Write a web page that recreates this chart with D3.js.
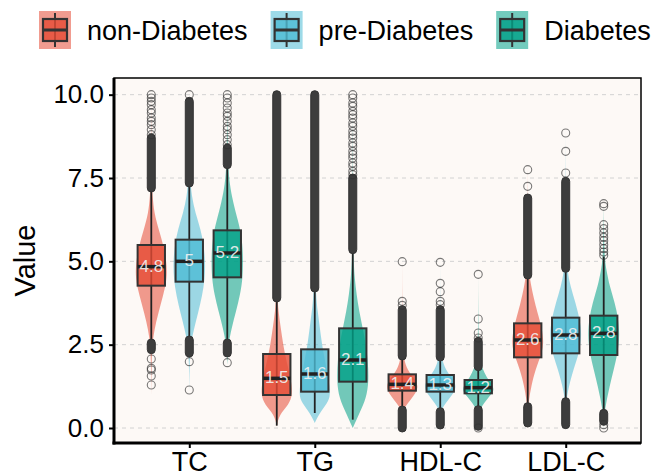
<!DOCTYPE html>
<html>
<head>
<meta charset="utf-8">
<script src="https://cdn.jsdelivr.net/npm/d3@7"></script>
<style>
  body { margin: 0; background: #fff; }
  svg { display: block; font-family: "Liberation Sans", Arial, sans-serif; }
</style>
</head>
<body>
<svg width="651" height="476"></svg>
<script>
// ---- data (rows = group, columns = category) ----
var categories = ["TC", "TG", "HDL-C", "LDL-C"];
var groups = ["non-Diabetes", "pre-Diabetes", "Diabetes"];
var colors = ["#E64B35", "#4DBBD5", "#00A087"];
var yTicks = [0, 2.5, 5, 7.5, 10];

var q1s = [[4.27, 0.99, 1.12, 2.12], [4.39, 1.09, 1.09, 2.24], [4.52, 1.39, 1.04, 2.19]];
var medians = [[4.84, 1.49, 1.31, 2.64], [5.0, 1.62, 1.29, 2.79], [5.25, 2.04, 1.21, 2.84]];
var q3s = [[5.49, 2.22, 1.61, 3.14], [5.65, 2.36, 1.59, 3.31], [5.93, 2.99, 1.44, 3.37]];
var whiskerLo = [[2.55, 0.07, 0.54, 0.64], [2.64, 0.45, 0.49, 0.79], [2.55, 0.25, 0.6, 0.44]];
var whiskerHi = [[7.2, 3.89, 2.16, 4.59], [7.35, 4.19, 2.13, 4.74], [7.9, 5.35, 1.84, 5.14]];
var labels = [[4.8, 1.5, 1.4, 2.6], [5, 1.6, 1.3, 2.8], [5.2, 2.1, 1.2, 2.8]];

// dense outlier stretches [from, to]
var outlierRuns = [
  [[[7.2, 8.7], [2.35, 2.55]], [[3.9, 10.0]], [[2.16, 3.55], [0.0, 0.54]], [[4.59, 6.9], [0.15, 0.64]]],
  [[[7.35, 9.8], [2.25, 2.64]], [[4.2, 10.0]], [[2.13, 3.55], [0.09, 0.49]], [[4.79, 7.4], [0.1, 0.79]]],
  [[[7.9, 8.4], [2.25, 2.55]], [[5.35, 7.5]], [[1.84, 2.6], [0.05, 0.55]], [[0.2, 0.44]]]
];
// single outliers
var outlierPoints = [
  [[8.8, 8.95, 9.1, 9.2, 9.3, 9.45, 9.55, 9.7, 9.8, 9.9, 10.0, 2.07, 1.79, 1.74, 1.56, 1.29], [],
   [3.68, 3.8, 4.99], [7.25, 7.75]],
  [[10.0, 1.99, 1.14], [], [3.7, 3.8, 4.09, 4.34, 4.97], [7.65, 8.3, 8.85]],
  [[8.5, 8.65, 8.8, 8.95, 9.05, 9.2, 9.35, 9.45, 9.6, 9.75, 9.9, 10.0, 1.96],
   [7.6, 7.7, 7.85, 7.95, 8.1, 8.2, 8.3, 8.45, 8.55, 8.7, 8.8, 8.9, 9.05, 9.15, 9.3, 9.4, 9.5, 9.65, 9.75, 9.9, 10.0],
   [2.7, 2.85, 3.27, 4.61, 0.0], [5.18, 5.28, 5.38, 5.5, 5.62, 5.72, 5.85, 5.98, 6.1, 6.65, 6.73, 0.1, 0.0]]
];

// violin outlines: [value, relative width]
var violins = [
  [
    [[1.0,0],[2.0,0.02],[2.5,0.06],[2.95,0.19],[3.45,0.44],[3.95,0.73],[4.5,1.0],[5.0,0.95],[5.5,0.75],[5.95,0.47],[6.45,0.18],[6.95,0.08],[7.5,0.03],[8.5,0.01],[10,0]],
    [[0.05,0],[0.4,0.15],[0.7,0.75],[1.0,1.0],[1.5,0.88],[2.0,0.6],[2.5,0.4],[3.0,0.25],[3.5,0.1],[4.0,0.04],[5,0.02],[7,0.01],[10,0]],
    [[0.0,0],[0.5,0.05],[0.65,0.2],[0.85,0.52],[1.05,0.85],[1.25,1.0],[1.45,0.8],[1.75,0.31],[2.05,0.12],[2.4,0.04],[3,0.01],[5,0]],
    [[0.1,0],[0.6,0.04],[0.85,0.08],[1.25,0.22],[1.75,0.47],[2.25,0.9],[2.6,1.0],[3.0,0.88],[3.4,0.65],[3.75,0.45],[4.25,0.22],[4.6,0.1],[5.2,0.04],[6.5,0.01],[7.8,0]]
  ],
  [
    [[1.1,0],[2.0,0.02],[2.5,0.08],[2.95,0.28],[3.45,0.55],[3.95,0.8],[4.5,0.98],[5.0,1.0],[5.5,0.9],[5.95,0.72],[6.45,0.38],[6.95,0.15],[7.5,0.05],[8.5,0.01],[10,0]],
    [[0.15,0],[0.45,0.3],[0.75,0.8],[1.0,1.0],[1.5,0.85],[2.0,0.65],[2.5,0.45],[3.0,0.32],[3.5,0.18],[4.0,0.07],[5,0.02],[7,0.01],[10,0]],
    [[0.05,0],[0.5,0.05],[0.65,0.2],[0.85,0.5],[1.05,0.85],[1.25,1.0],[1.45,0.82],[1.75,0.33],[2.05,0.12],[2.4,0.04],[3,0.01],[5,0]],
    [[0.1,0],[0.7,0.04],[0.95,0.08],[1.25,0.2],[1.75,0.47],[2.25,0.85],[2.8,1.0],[3.2,0.9],[3.75,0.62],[4.25,0.3],[4.65,0.12],[5.3,0.04],[7,0.01],[8.9,0]]
  ],
  [
    [[1.9,0],[2.5,0.06],[3.0,0.27],[3.5,0.55],[4.0,0.8],[4.5,0.97],[5.2,1.0],[5.8,0.88],[6.2,0.68],[6.8,0.35],[7.3,0.15],[7.9,0.05],[9,0.01],[10,0]],
    [[0.0,0],[0.45,0.42],[0.9,0.85],[1.4,1.0],[2.0,0.95],[2.5,0.82],[3.0,0.62],[3.5,0.4],[4.0,0.24],[4.5,0.12],[5.0,0.05],[6,0.02],[8,0.01],[10,0]],
    [[0.0,0],[0.45,0.05],[0.65,0.22],[0.85,0.52],[1.05,0.9],[1.2,1.0],[1.4,0.7],[1.65,0.38],[1.95,0.14],[2.3,0.04],[3,0.01],[4.6,0]],
    [[0.0,0],[0.45,0.05],[0.75,0.15],[1.25,0.37],[1.75,0.62],[2.25,0.88],[2.8,1.0],[3.3,0.9],[3.75,0.7],[4.25,0.37],[4.75,0.16],[5.05,0.07],[5.6,0.02],[6.7,0]]
  ]
];

// ---- layout ----
var svg = d3.select("svg"),
  panel = {left: 114, right: 641, top: 78, bottom: 443};

var x = d3.scalePoint()
  .domain(categories)
  .range([panel.left, panel.right])
  .padding(0.6);

var xSub = d3.scaleBand()
  .domain(groups)
  .range([-57, 57]);

var y = d3.scaleLinear()
  .domain([-0.45, 10.5])
  .range([panel.bottom, panel.top]);

var halfW = d3.scaleLinear().domain([0, 1]).range([0, 16]);
var boxW = xSub.bandwidth() * 0.72;

var rows = [];
groups.forEach(function(gname, gi) {
  categories.forEach(function(cat, ci) {
    rows.push({
      g: gi, cat: cat,
      cx: x(cat) + xSub(gname) + xSub.bandwidth() / 2,
      q1: q1s[gi][ci], med: medians[gi][ci], q3: q3s[gi][ci],
      lo: whiskerLo[gi][ci], hi: whiskerHi[gi][ci],
      label: labels[gi][ci],
      runs: outlierRuns[gi][ci], pts: outlierPoints[gi][ci],
      violin: violins[gi][ci]
    });
  });
});

// panel background + grid
svg.append("rect")
  .attr("x", panel.left).attr("y", panel.top)
  .attr("width", panel.right - panel.left).attr("height", panel.bottom - panel.top)
  .attr("fill", "#FDF9F6");

svg.append("g").selectAll("line")
  .data(yTicks)
  .enter().append("line")
    .attr("x1", panel.left).attr("x2", panel.right)
    .attr("y1", function(d) { return y(d); })
    .attr("y2", function(d) { return y(d); })
    .attr("stroke", "#d2d2d2")
    .attr("stroke-dasharray", "4,4");

var g = svg.append("g");

// violins
var area = d3.area()
  .curve(d3.curveBasis)
  .y(function(d) { return y(d[0]); });

g.selectAll(".violin")
  .data(rows)
  .enter().append("path")
    .attr("class", "violin")
    .attr("d", function(r) {
      return area
        .x0(function(d) { return r.cx - halfW(d[1]); })
        .x1(function(d) { return r.cx + halfW(d[1]); })(r.violin);
    })
    .attr("fill", function(r) { return colors[r.g]; })
    .attr("fill-opacity", 0.55);

// whiskers
g.selectAll(".whisker")
  .data(rows)
  .enter().append("line")
    .attr("x1", function(r) { return r.cx; })
    .attr("x2", function(r) { return r.cx; })
    .attr("y1", function(r) { return y(r.lo); })
    .attr("y2", function(r) { return y(r.hi); })
    .attr("stroke", "#222")
    .attr("stroke-width", 1.8);

// boxes
g.selectAll(".box")
  .data(rows)
  .enter().append("rect")
    .attr("x", function(r) { return r.cx - boxW / 2; })
    .attr("y", function(r) { return y(r.q3); })
    .attr("width", boxW)
    .attr("height", function(r) { return y(r.q1) - y(r.q3); })
    .attr("fill", function(r) { return colors[r.g]; })
    .attr("fill-opacity", 0.8)
    .attr("stroke", "#333")
    .attr("stroke-width", 2);

g.selectAll(".median")
  .data(rows)
  .enter().append("line")
    .attr("x1", function(r) { return r.cx - boxW / 2; })
    .attr("x2", function(r) { return r.cx + boxW / 2; })
    .attr("y1", function(r) { return y(r.med); })
    .attr("y2", function(r) { return y(r.med); })
    .attr("stroke", "#222")
    .attr("stroke-width", 3.5);

// outliers
var rOut = 4;
rows.forEach(function(r) {
  g.append("g").selectAll("rect")
    .data(r.runs)
    .enter().append("rect")
      .attr("x", r.cx - rOut)
      .attr("y", function(d) { return y(d[1]) - rOut; })
      .attr("width", rOut * 2)
      .attr("height", function(d) { return y(d[0]) - y(d[1]) + rOut * 2; })
      .attr("rx", rOut)
      .attr("fill", "#3d3d3d")
      .attr("stroke", "#333")
      .attr("stroke-width", 1);

  g.append("g").selectAll("circle")
    .data(r.pts)
    .enter().append("circle")
      .attr("cx", r.cx)
      .attr("cy", function(d) { return y(d); })
      .attr("r", rOut)
      .attr("fill", "none")
      .attr("stroke", "#333")
      .attr("stroke-opacity", 0.65)
      .attr("stroke-width", 1.1);
});

// value labels
g.selectAll(".vlabel")
  .data(rows)
  .enter().append("text")
    .attr("x", function(r) { return r.cx; })
    .attr("y", function(r) { return y(r.med) - 1; })
    .attr("dy", "0.35em")
    .attr("text-anchor", "middle")
    .attr("font-size", 17)
    .attr("fill", "#f0f0f0")
    .attr("fill-opacity", 0.92)
    .text(function(r) { return r.label; });

// panel border
svg.append("rect")
  .attr("x", panel.left).attr("y", panel.top)
  .attr("width", panel.right - panel.left).attr("height", panel.bottom - panel.top)
  .attr("fill", "none")
  .attr("stroke", "#000")
  .attr("stroke-width", 1.5);

// axes
var yAxis = svg.append("g")
  .attr("transform", "translate(" + panel.left + ",0)")
  .call(d3.axisLeft(y).tickValues(yTicks).tickFormat(d3.format(".1f")).tickSize(5).tickPadding(5));
var xAxis = svg.append("g")
  .attr("transform", "translate(0," + panel.bottom + ")")
  .call(d3.axisBottom(x).tickSize(5).tickPadding(4));

[yAxis, xAxis].forEach(function(ax) {
  ax.select(".domain").remove();
  ax.selectAll(".tick line").attr("stroke", "#000").attr("stroke-width", 2);
  ax.selectAll("text").attr("fill", "#000").attr("font-family", "Liberation Sans, Arial, sans-serif");
});
yAxis.selectAll("text").attr("font-size", 26);
xAxis.selectAll("text").attr("font-size", 27);

svg.append("line")
  .attr("x1", panel.left).attr("x2", panel.left)
  .attr("y1", panel.top).attr("y2", panel.bottom + 1.5)
  .attr("stroke", "#000").attr("stroke-width", 3);
svg.append("line")
  .attr("x1", panel.left - 1.5).attr("x2", panel.right)
  .attr("y1", panel.bottom).attr("y2", panel.bottom)
  .attr("stroke", "#000").attr("stroke-width", 3);

svg.append("text")
  .attr("transform", "translate(35," + (panel.top + panel.bottom) / 2 + ") rotate(-90)")
  .attr("text-anchor", "middle")
  .attr("font-size", 29)
  .attr("fill", "#000")
  .text("Value");

// legend
var legend = svg.append("g");
var lx = 39;
groups.forEach(function(name, i) {
  var item = legend.append("g").attr("transform", "translate(" + lx + ",11)");
  item.append("rect")
    .attr("width", 32).attr("height", 38)
    .attr("fill", colors[i]).attr("fill-opacity", 0.55);
  item.append("line")
    .attr("x1", 16).attr("x2", 16).attr("y1", 2).attr("y2", 36)
    .attr("stroke", "#333").attr("stroke-width", 2);
  item.append("rect")
    .attr("x", 4).attr("y", 8).attr("width", 24).attr("height", 22)
    .attr("fill", colors[i]).attr("fill-opacity", 0.8)
    .attr("stroke", "#333").attr("stroke-width", 2.2);
  item.append("line")
    .attr("x1", 4).attr("x2", 28).attr("y1", 19).attr("y2", 19)
    .attr("stroke", "#333").attr("stroke-width", 3);
  var t = item.append("text")
    .attr("x", 48).attr("y", 29)
    .attr("font-size", 27)
    .attr("fill", "#000")
    .text(name);
  lx += 48 + t.node().getComputedTextLength() + 23;
});
</script>
</body>
</html>
